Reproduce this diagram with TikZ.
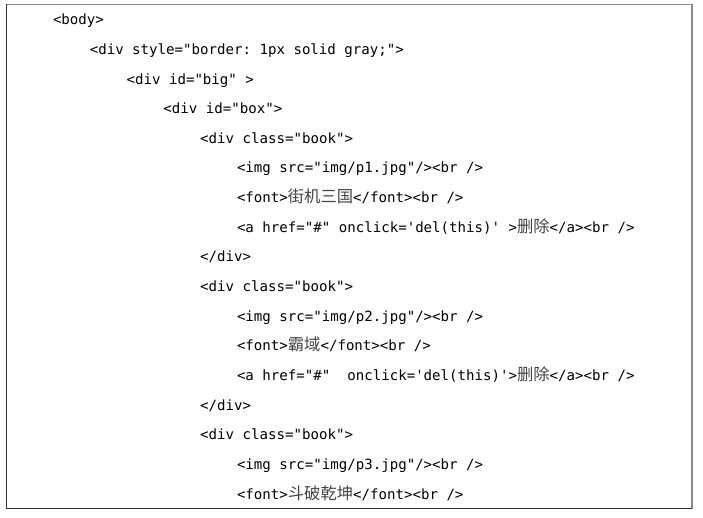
\documentclass[tikz,border=0pt]{standalone}
\usepackage{fontspec}
\setmonofont{DejaVu Sans Mono}
\newfontfamily\cjk{Noto Sans CJK SC}
\definecolor{zhgray}{HTML}{444444}
\definecolor{topgray}{HTML}{8A8A8A}
\definecolor{botgray}{HTML}{333333}
\newcommand\zh[1]{{\cjk\fontsize{16.3pt}{16pt}\selectfont\color{zhgray}#1}}
\tikzset{
  code/.style={anchor=base west, inner sep=0pt, outer sep=0pt,
    font=\ttfamily\fontsize{14.1pt}{16pt}\selectfont, text=black}
}
\begin{document}
\begin{tikzpicture}[x=1pt,y=1pt]
\useasboundingbox (0,0) rectangle (703,-517);
\fill[white] (0,0) rectangle (703,-517);
% frame
\coordinate (tl) at (6,-4);
\coordinate (tr) at (692,-4);
\coordinate (bl) at (6,-508.5);
\coordinate (br) at (692,-508.5);
\draw[topgray, line width=1pt] (tl) -- (tr);
\draw[topgray, line width=2pt] (tr) -- (br);
\draw[botgray, line width=1pt] (tl) -- (bl);
\draw[botgray, line width=1.6pt] (bl) -- (br);
% code lines
\def\dy{29.65}
\def\yo{-24.7}
\node[code] (l1)  at (53,   {\yo-0*\dy}) {<body>};
\node[code] (l2)  at (89.8, {\yo-1*\dy}) {<div style="border: 1px solid gray;">};
\node[code] (l3)  at (126.6,{\yo-2*\dy}) {<div id="big" >};
\node[code] (l4)  at (163.4,{\yo-3*\dy}) {<div id="box">};
\node[code] (l5)  at (200.2,{\yo-4*\dy}) {<div class="book">};
\node[code] (l6)  at (237,  {\yo-5*\dy}) {<img src="img/p1.jpg"/><br />};
\node[code] (l7)  at (237,  {\yo-6*\dy}) {<font>\zh{街机三国}</font><br />};
\node[code] (l8)  at (237,  {\yo-7*\dy}) {<a href="\#" onclick='del(this)' >\zh{删除}</a><br />};
\node[code] (l9)  at (200.2,{\yo-8*\dy}) {</div>};
\node[code] (l10) at (200.2,{\yo-9*\dy}) {<div class="book">};
\node[code] (l11) at (237,  {\yo-10*\dy}) {<img src="img/p2.jpg"/><br />};
\node[code] (l12) at (237,  {\yo-11*\dy}) {<font>\zh{霸域}</font><br />};
\node[code] (l13) at (237,  {\yo-12*\dy}) {<a href="\#"~~onclick='del(this)'>\zh{删除}</a><br />};
\node[code] (l14) at (200.2,{\yo-13*\dy}) {</div>};
\node[code] (l15) at (200.2,{\yo-14*\dy}) {<div class="book">};
\node[code] (l16) at (237,  {\yo-15*\dy}) {<img src="img/p3.jpg"/><br />};
\node[code] (l17) at (237,  {\yo-16*\dy}) {<font>\zh{斗破乾坤}</font><br />};
\end{tikzpicture}
\end{document}
